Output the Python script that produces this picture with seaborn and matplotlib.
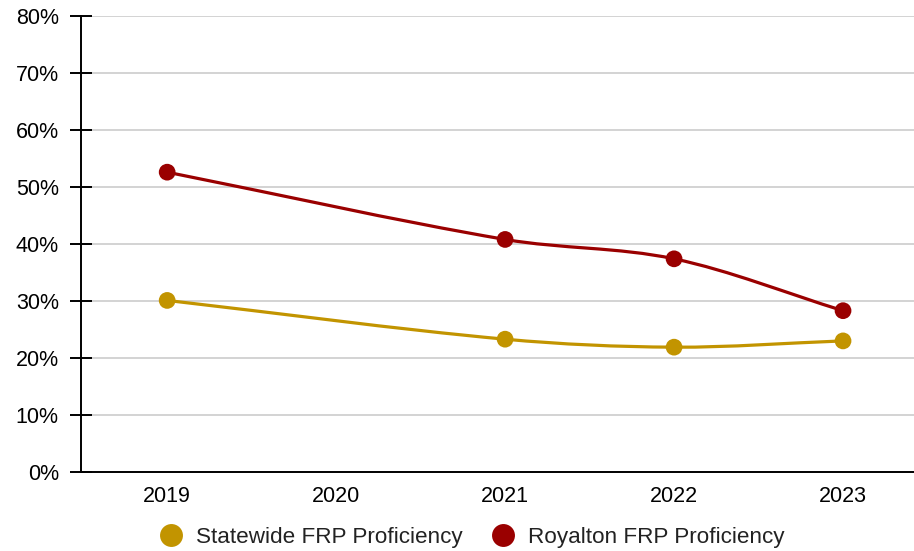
import numpy as np
import pandas as pd
import matplotlib
matplotlib.use("Agg")
import matplotlib.pyplot as plt
from matplotlib.path import Path
from matplotlib.patches import PathPatch
from matplotlib.lines import Line2D
from matplotlib.ticker import FuncFormatter
import seaborn as sns

# Proficiency rates (percent) by school year
years = [2019, 2021, 2022, 2023]
statewide = [30.1, 23.3, 21.9, 23.0]
royalton = [52.6, 40.8, 37.4, 28.3]
series_names = ["Statewide FRP Proficiency", "Royalton FRP Proficiency"]
series_colors = ["#C29400", "#9A0000"]
x_ticks = [2019, 2020, 2021, 2022, 2023]
y_ticks = [0, 10, 20, 30, 40, 50, 60, 70, 80]

df = pd.concat([
    pd.DataFrame({"year": years, "value": statewide, "series": series_names[0]}),
    pd.DataFrame({"year": years, "value": royalton, "series": series_names[1]}),
])

sns.set_theme(style="white")
plt.rcParams["font.family"] = ["Liberation Sans", "DejaVu Sans"]

fig = plt.figure(figsize=(9.14, 5.51), dpi=100)
ax = fig.add_axes([81 / 914, 1 - 472 / 551, (914 - 81) / 914, (472 - 16) / 551])

ax.set_xlim(2018.49, 2023.42)
ax.set_ylim(0, 80)


def smooth_path(xs, ys):
    """Cubic Bezier path through the points using finite-difference tangents."""
    xs = np.asarray(xs, float)
    ys = np.asarray(ys, float)
    n = len(xs)
    slopes = np.empty(n)
    for i in range(n):
        lo, hi = max(i - 1, 0), min(i + 1, n - 1)
        slopes[i] = (ys[hi] - ys[lo]) / (xs[hi] - xs[lo])
    verts = [(xs[0], ys[0])]
    codes = [Path.MOVETO]
    for i in range(n - 1):
        d = (xs[i + 1] - xs[i]) / 3.0
        verts += [(xs[i] + d, ys[i] + slopes[i] * d),
                  (xs[i + 1] - d, ys[i + 1] - slopes[i + 1] * d),
                  (xs[i + 1], ys[i + 1])]
        codes += [Path.CURVE4] * 3
    return Path(verts, codes)


for name, color in zip(series_names, series_colors):
    sub = df[df["series"] == name]
    ax.add_patch(PathPatch(smooth_path(sub["year"].values, sub["value"].values),
                           facecolor="none", edgecolor=color, lw=2.3,
                           capstyle="round", joinstyle="round", zorder=3))

sns.scatterplot(data=df, x="year", y="value", hue="series", hue_order=series_names,
                palette=series_colors, s=145, edgecolor="none", legend=False,
                ax=ax, zorder=4)

ax.set_xticks(x_ticks)
ax.set_xticklabels([str(v) for v in x_ticks])
ax.set_yticks(y_ticks)
ax.yaxis.set_major_formatter(FuncFormatter(lambda v, _: f"{v:.0f}%"))
ax.set_xlabel("")
ax.set_ylabel("")

ax.grid(axis="y", color="#cccccc", lw=1.2)
ax.grid(axis="x", visible=False)
ax.set_axisbelow(True)

for side in ["top", "right"]:
    ax.spines[side].set_visible(False)
for side in ["left", "bottom"]:
    ax.spines[side].set_visible(True)
    ax.spines[side].set_color("black")
    ax.spines[side].set_linewidth(1.4)

ax.tick_params(axis="y", direction="inout", length=16, width=1.4, color="black",
               labelsize=15.5, labelcolor="black", pad=8, left=True)
ax.tick_params(axis="x", length=0, labelsize=15.5, labelcolor="black", pad=10)

handles = [Line2D([0], [0], marker="o", linestyle="none", markersize=16.5,
                  markerfacecolor=c, markeredgecolor="none") for c in series_colors]
fig.legend(handles, series_names, loc="center", bbox_to_anchor=(471 / 914, 1 - 537 / 551),
           ncol=2, frameon=False, fontsize=16.2, handletextpad=0.5, columnspacing=1.2,
           handlelength=1.2, labelcolor="#222222")

fig.savefig("out.png", dpi=100, facecolor="white")
